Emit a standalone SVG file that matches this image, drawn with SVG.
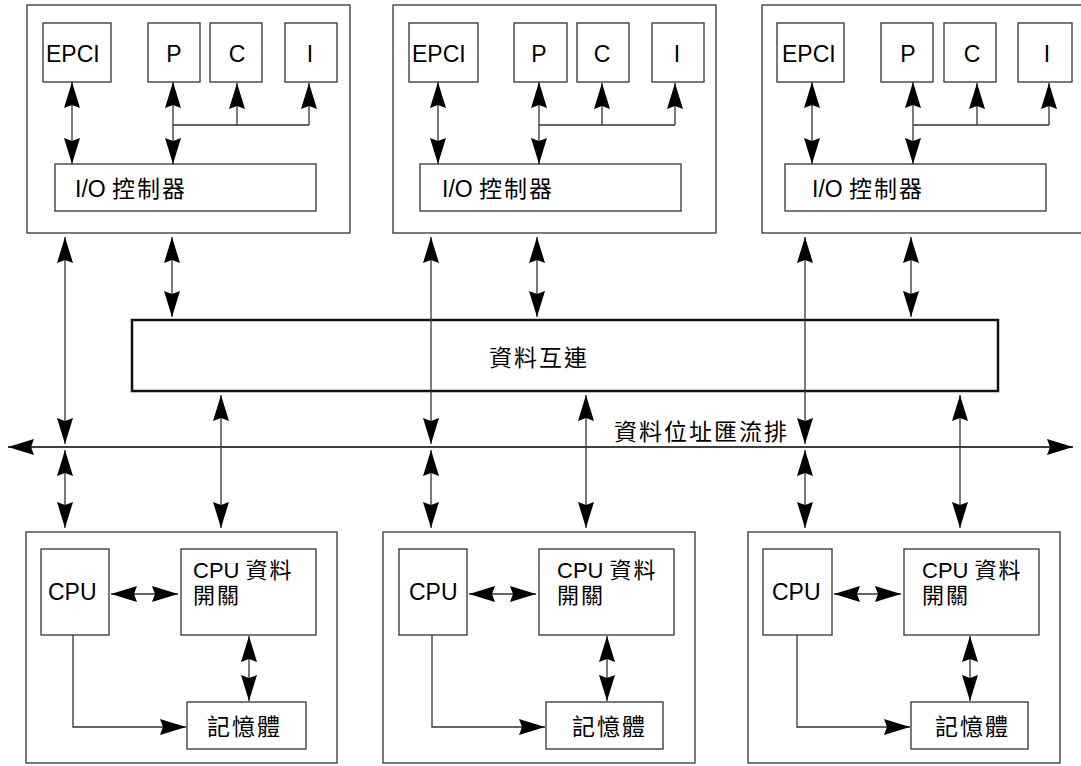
<svg xmlns="http://www.w3.org/2000/svg" width="1081" height="766" viewBox="0 0 1081 766">
<style>
.box{fill:#fff;stroke:#333;stroke-width:1.3}
.ic{fill:#fff;stroke:#111;stroke-width:2.5}
.t{font-family:"Liberation Sans","Noto Sans CJK TC",sans-serif;font-size:23px;fill:#000}
.s{font-size:22px}
.m{text-anchor:middle}
.cj{letter-spacing:2px}
.ln{fill:none;stroke:#333;stroke-width:1.3}
.bus{fill:none;stroke:#000;stroke-width:1.6}
.a2{marker-start:url(#ah);marker-end:url(#ah)}
.a1{marker-end:url(#ah)}
</style>
<defs>
<marker id="ah" markerUnits="userSpaceOnUse" markerWidth="26" markerHeight="16" viewBox="0 0 26 16" refX="26" refY="8" orient="auto-start-reverse">
<path d="M0,0 L26,8 L0,16 L3,8 z" fill="#000"/>
</marker>
</defs>
<rect width="1081" height="766" fill="#fff"/>

<!-- top I/O units -->
<g id="io1">
<rect class="box" x="27" y="5" width="323" height="228"/>
<rect class="box" x="43" y="23" width="68" height="59"/>
<text class="t" x="46" y="62">EPCI</text>
<rect class="box" x="148" y="23" width="52" height="59"/>
<text class="t m" x="174" y="62">P</text>
<rect class="box" x="210" y="23" width="52" height="59"/>
<text class="t m" x="237" y="62">C</text>
<rect class="box" x="285" y="23" width="52" height="59"/>
<text class="t m" x="310" y="62">I</text>
<rect class="box" x="55" y="164" width="261" height="47"/>
<text class="t" x="75" y="197">I/O <tspan class="cj">控制器</tspan></text>
</g>
<g id="io2">
<rect class="box" x="393" y="5" width="323" height="228"/>
<rect class="box" x="409" y="23" width="69" height="59"/>
<text class="t" x="412" y="62">EPCI</text>
<rect class="box" x="514" y="23" width="53" height="59"/>
<text class="t m" x="539" y="62">P</text>
<rect class="box" x="577" y="23" width="52" height="59"/>
<text class="t m" x="602" y="62">C</text>
<rect class="box" x="652" y="23" width="52" height="59"/>
<text class="t m" x="677" y="62">I</text>
<rect class="box" x="420" y="164" width="261" height="47"/>
<text class="t" x="442" y="197">I/O <tspan class="cj">控制器</tspan></text>
</g>
<g id="io3">
<rect class="box" x="762" y="5" width="330" height="228"/>
<rect class="box" x="777" y="23" width="67" height="59"/>
<text class="t" x="782" y="62">EPCI</text>
<rect class="box" x="881" y="23" width="52" height="59"/>
<text class="t m" x="908" y="62">P</text>
<rect class="box" x="944" y="23" width="52" height="59"/>
<text class="t m" x="972" y="62">C</text>
<rect class="box" x="1018" y="23" width="54" height="59"/>
<text class="t m" x="1047" y="62">I</text>
<rect class="box" x="785" y="164" width="261" height="47"/>
<text class="t" x="812" y="197">I/O <tspan class="cj">控制器</tspan></text>
</g>

<!-- interconnect -->
<g id="interconnect">
<rect class="ic" x="132" y="320" width="866" height="71"/>
<text class="t cj" x="489" y="366">資料互連</text>
</g>

<!-- bus label -->
<g id="bus">
<text class="t cj" x="614" y="440">資料位址匯流排</text>
</g>

<!-- bottom CPU units -->
<g id="cpu1">
<rect class="box" x="26" y="532" width="311" height="231"/>
<rect class="box" x="41" y="549" width="68" height="86"/>
<text class="t" x="48" y="600">CPU</text>
<rect class="box" x="181" y="549" width="135" height="86"/>
<text class="t s" x="193" y="578">CPU <tspan class="cj">資料</tspan></text>
<text class="t s cj" x="193" y="603">開關</text>
<rect class="box" x="187" y="702" width="119" height="47"/>
<text class="t cj" x="207" y="735">記憶體</text>
</g>
<g id="cpu2">
<rect class="box" x="383" y="532" width="312" height="231"/>
<rect class="box" x="399" y="549" width="68" height="86"/>
<text class="t" x="409" y="600">CPU</text>
<rect class="box" x="539" y="549" width="135" height="86"/>
<text class="t s" x="557" y="578">CPU <tspan class="cj">資料</tspan></text>
<text class="t s cj" x="557" y="603">開關</text>
<rect class="box" x="546" y="702" width="117" height="47"/>
<text class="t cj" x="572" y="735">記憶體</text>
</g>
<g id="cpu3">
<rect class="box" x="748" y="532" width="312" height="231"/>
<rect class="box" x="763" y="549" width="69" height="86"/>
<text class="t" x="772" y="600">CPU</text>
<rect class="box" x="904" y="549" width="135" height="86"/>
<text class="t s" x="922" y="578">CPU <tspan class="cj">資料</tspan></text>
<text class="t s cj" x="922" y="603">開關</text>
<rect class="box" x="911" y="702" width="117" height="47"/>
<text class="t cj" x="935" y="735">記憶體</text>
</g>

<g id="connectors">
<!-- inside top units -->
<line class="ln a2" x1="72" y1="82" x2="72" y2="164"/>
<line class="ln a2" x1="173" y1="82" x2="173" y2="164"/>
<polyline class="ln" points="173,125 309,125"/>
<line class="ln a1" x1="237" y1="125" x2="237" y2="83"/>
<line class="ln a1" x1="309" y1="125" x2="309" y2="83"/>

<line class="ln a2" x1="438" y1="82" x2="438" y2="164"/>
<line class="ln a2" x1="539" y1="82" x2="539" y2="164"/>
<polyline class="ln" points="539,125 675,125"/>
<line class="ln a1" x1="602" y1="125" x2="602" y2="83"/>
<line class="ln a1" x1="675" y1="125" x2="675" y2="83"/>

<line class="ln a2" x1="812" y1="82" x2="812" y2="164"/>
<line class="ln a2" x1="913" y1="82" x2="913" y2="164"/>
<polyline class="ln" points="913,125 1049,125"/>
<line class="ln a1" x1="977" y1="125" x2="977" y2="83"/>
<line class="ln a1" x1="1049" y1="125" x2="1049" y2="83"/>

<!-- top units to bus / interconnect -->
<line class="ln a2" x1="65" y1="237" x2="65" y2="444"/>
<line class="ln a2" x1="172" y1="237" x2="172" y2="317"/>
<line class="ln a2" x1="431" y1="237" x2="431" y2="444"/>
<line class="ln a2" x1="537" y1="237" x2="537" y2="317"/>
<line class="ln a2" x1="805" y1="237" x2="805" y2="444"/>
<line class="ln a2" x1="911" y1="237" x2="911" y2="317"/>

<!-- bus -->
<line class="bus a2" x1="8" y1="447" x2="1073" y2="447"/>

<!-- bus / interconnect to bottom units -->
<line class="ln a2" x1="65" y1="450" x2="65" y2="528"/>
<line class="ln a2" x1="431" y1="450" x2="431" y2="528"/>
<line class="ln a2" x1="805" y1="450" x2="805" y2="528"/>
<line class="ln a2" x1="221" y1="395" x2="221" y2="528"/>
<line class="ln a2" x1="586" y1="395" x2="586" y2="528"/>
<line class="ln a2" x1="960" y1="395" x2="960" y2="528"/>

<!-- inside bottom units -->
<line class="ln a2" x1="111" y1="594" x2="178" y2="594"/>
<line class="ln a2" x1="249" y1="636" x2="249" y2="701"/>
<polyline class="ln a1" points="73,635 73,727 186,727"/>

<line class="ln a2" x1="469" y1="594" x2="536" y2="594"/>
<line class="ln a2" x1="607" y1="636" x2="607" y2="701"/>
<polyline class="ln a1" points="432,635 432,727 545,727"/>

<line class="ln a2" x1="834" y1="594" x2="901" y2="594"/>
<line class="ln a2" x1="970" y1="636" x2="970" y2="701"/>
<polyline class="ln a1" points="797,635 797,727 910,727"/>
</g>
</svg>
